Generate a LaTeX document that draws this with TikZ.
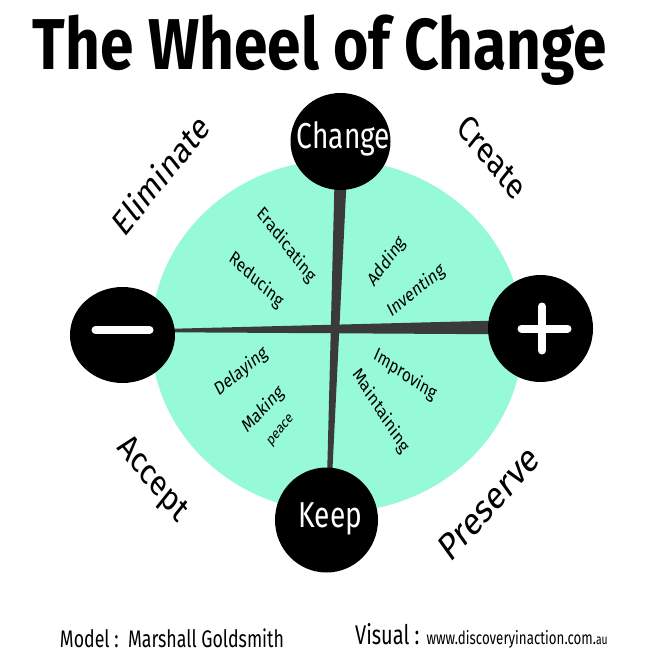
\documentclass[tikz,border=0pt]{standalone}
\usepackage{fontspec}
\setmainfont{Fira Sans}
\usetikzlibrary{shapes.geometric}
\definecolor{mint}{RGB}{150,250,216}
\definecolor{bargray}{RGB}{58,58,58}
\begin{document}
\begin{tikzpicture}[x=1pt,y=-1pt,
  hub/.style={ellipse, fill=black, inner sep=0pt},
  hubtext/.style={text=white, inner sep=0pt, font=\fontsize{36}{38}\selectfont, xscale=0.78},
  outer/.style={font=\fontsize{36}{38}\selectfont, inner sep=0pt, xscale=0.8},
  inner/.style={font=\fontsize{19}{20}\selectfont, inner sep=0pt, xscale=0.8},
  foot/.style={font=\fontsize{24}{26}\selectfont, inner sep=0pt, xscale=0.74},
  bar/.style={fill=bargray},
  sign/.style={draw=white, line width=8pt, line cap=round}]
\useasboundingbox (0,0) rectangle (659,671);
\fill[white] (0,0) rectangle (659,671);
% title
\node[font=\fontsize{72}{74}\selectfont\bfseries, inner sep=0pt, xscale=0.84] (title) at (320,50) {The Wheel of Change};
% wheel
\fill[mint] (337,336) ellipse [x radius=186, y radius=176];
% hub positions
\coordinate (cC) at (340.5,141.5);
\coordinate (cM) at (122.5,335);
\coordinate (cP) at (540.5,328.5);
\coordinate (cK) at (326.5,520);
% spokes
\fill[bar] ([xshift=-5pt]cC) -- ([xshift=8pt]cC) -- ([xshift=3.5pt]cK) -- ([xshift=-0.5pt]cK) -- cycle;
\fill[bar] ([yshift=5pt]cM) -- ([yshift=3pt]cM) -- ([yshift=-6pt]cP) -- ([yshift=9pt]cP) -- cycle;
% hubs
\node[hub, minimum width=100pt, minimum height=97pt] (change) at (cC) {};
\node[hub, minimum width=105pt, minimum height=96pt] (minus) at (cM) {};
\node[hub, minimum width=105pt, minimum height=107pt] (plus) at (cP) {};
\node[hub, minimum width=103pt, minimum height=105pt] (keep) at (cK) {};
\node[hubtext] (changetxt) at ([xshift=3pt,yshift=3pt]change.center) {Change};
\node[hubtext] (keeptxt) at ([xshift=4pt,yshift=1pt]keep.center) {Keep};
% signs
\draw[sign] ([xshift=-27pt,yshift=5pt]minus.center) -- ([xshift=27pt,yshift=5pt]minus.center);
\draw[sign] ([xshift=-19pt]plus.center) -- ([xshift=27pt]plus.center);
\draw[sign] ([xshift=1.5pt,yshift=22pt]plus.center) -- ([xshift=1.5pt,yshift=-22pt]plus.center);
% outer labels
\node[outer, rotate=45] (elim) at (160,174) {Eliminate};
\node[outer, rotate=-45] (create) at (492,157) {Create};
\node[outer, rotate=-45] (accept) at (152,480) {Accept};
\node[outer, rotate=42, font=\fontsize{39}{41}\selectfont] (preserve) at (489,503) {Preserve};
% inner labels
\node[inner, rotate=-46] (erad) at (286,245) {Eradicating};
\node[inner, rotate=-37] (red) at (256,280) {Reducing};
\node[inner, rotate=48] (add) at (387,262) {Adding};
\node[inner, rotate=33] (inv) at (416,291) {Inventing};
\node[inner, rotate=33] (del) at (241,372) {Delaying};
\node[inner, rotate=40] (mak) at (263,410) {Making};
\node[inner, rotate=45, font=\fontsize{15}{16}\selectfont] (peace) at (281,431) {peace};
\node[inner, rotate=-29] (imp) at (405,375) {Improving};
\node[inner, rotate=-52] (maint) at (381,411) {Maintaining};
% footer
\node[foot] (model) at (172,638) {Model :\ \ Marshall Goldsmith};
\node[foot, anchor=west, font=\fontsize{27}{28}\selectfont] (visual) at (355,636) {Visual : {\fontsize{18}{19}\selectfont www.discoveryinaction.com.{\fontsize{14}{15}\selectfont au}}};
\end{tikzpicture}
\end{document}
